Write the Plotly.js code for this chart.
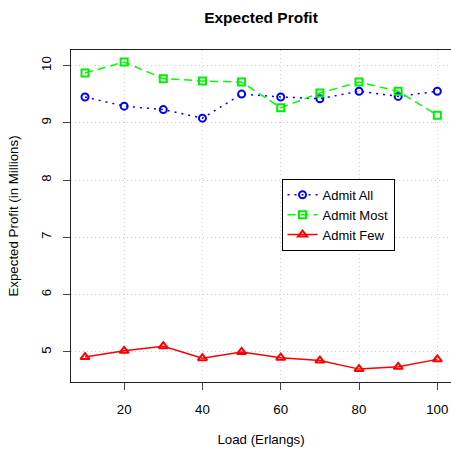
<!DOCTYPE html>
<html>
<head>
<meta charset="utf-8">
<script src="https://cdn.plot.ly/plotly-3.0.1.min.js"></script>
<style>html,body{margin:0;padding:0;overflow:hidden;background:#fff;}</style>
</head>
<body>
<div id="chart" style="width:451px;height:449px;"></div>
<script>
const load = [10, 20, 30, 40, 50, 60, 70, 80, 90, 100];
const admitAll  = [9.45, 9.29, 9.23, 9.08, 9.50, 9.45, 9.42, 9.55, 9.46, 9.55];
const admitMost = [9.87, 10.06, 9.77, 9.73, 9.71, 9.26, 9.52, 9.71, 9.55, 9.13];
const admitFew  = [4.91, 5.02, 5.10, 4.89, 5.00, 4.90, 4.85, 4.70, 4.74, 4.87];
const seriesNames = ["Admit All", "Admit Most", "Admit Few"];
const xTicks = [20, 40, 60, 80, 100];
const yTicks = [5, 6, 7, 8, 9, 10];

const font = "Liberation Sans, Arial, Helvetica, sans-serif";

const traces = [
  {x: load, y: admitAll, name: seriesNames[0], mode: "lines+markers", type: "scatter",
   line: {color: "#0000ff", width: 1.5, dash: "2px,5px"},
   marker: {symbol: "circle-open", size: 7, color: "#0000ff", line: {width: 2}}},
  {x: load, y: admitMost, name: seriesNames[1], mode: "lines+markers", type: "scatter",
   line: {color: "#00ff00", width: 1.5, dash: "8px,5px"},
   marker: {symbol: "square-open", size: 7, color: "#00ee00", line: {width: 2}}},
  {x: load, y: admitFew, name: seriesNames[2], mode: "lines+markers", type: "scatter",
   line: {color: "#ff0000", width: 1.5, dash: "solid"},
   marker: {symbol: "triangle-up-open", size: 8, color: "#ff0000", line: {width: 2}}}
];

const layout = {
  width: 451, height: 449,
  margin: {l: 71, r: 0, t: 50, b: 67},
  paper_bgcolor: "#fff", plot_bgcolor: "#fff",
  font: {family: font, size: 13.3, color: "#000"},
  title: {text: "<b>Expected Profit</b>", font: {family: font, size: 15.5, color: "#000"},
          x: 0.5, xref: "paper", y: 0.96, yanchor: "middle"},
  showlegend: true,
  legend: {x: 0.554, y: 0.612, xanchor: "left", yanchor: "top",
           bgcolor: "#fff", bordercolor: "#000", borderwidth: 1,
           font: {family: font, size: 13, color: "#000"}, tracegroupgap: 0},
  xaxis: {
    range: [6.42, 103.5], tickvals: xTicks, ticktext: xTicks.map(String),
    ticks: "outside", ticklen: 7, tickcolor: "#444", tickwidth: 1,
    showline: true, linecolor: "#222", linewidth: 1, mirror: true,
    showgrid: true, gridcolor: "#cfcfcf", griddash: "1px,3px", gridwidth: 1,
    zeroline: false, tickfont: {size: 13.3}, ticklabelstandoff: 8,
    title: {text: "Load (Erlangs)", font: {size: 13.3}, standoff: 18}
  },
  yaxis: {
    range: [4.475, 10.27], tickvals: yTicks, ticktext: yTicks.map(String),
    ticks: "outside", ticklen: 7, tickcolor: "#444", tickwidth: 1,
    showline: true, linecolor: "#222", linewidth: 1,
    showgrid: true, gridcolor: "#cfcfcf", griddash: "1px,3px", gridwidth: 1,
    zeroline: false, tickangle: -90, tickfont: {size: 13.3}, ticklabelstandoff: 7,
    title: {text: "Expected Profit (in Millions)", font: {size: 13.3}, standoff: 17}
  }
};

Plotly.newPlot("chart", traces, layout, {displayModeBar: false, staticPlot: true});
</script>
</body>
</html>
